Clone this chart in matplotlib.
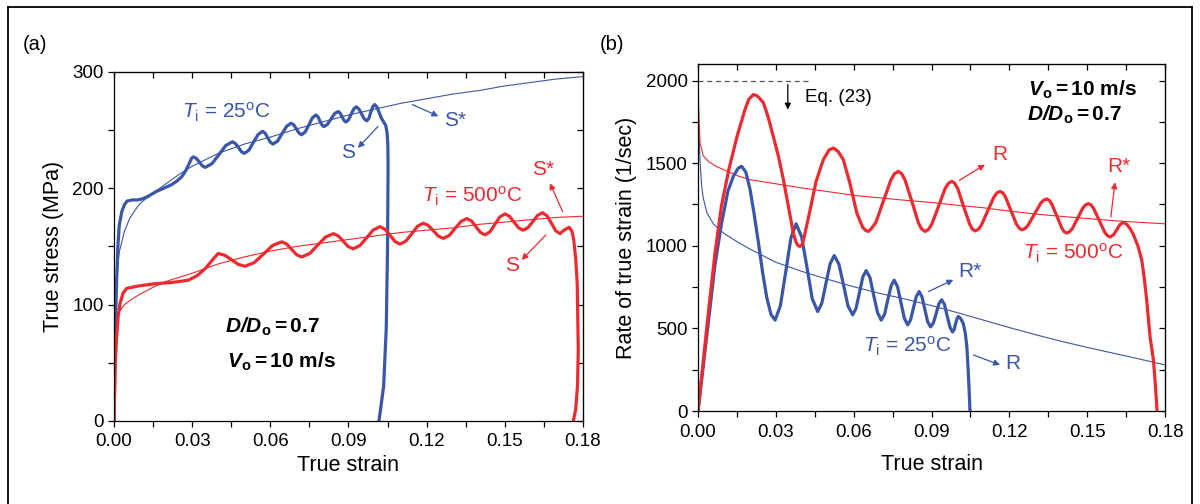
import matplotlib
matplotlib.use("Agg")
import matplotlib.pyplot as plt
from matplotlib.ticker import MultipleLocator
from matplotlib.lines import Line2D

plt.rcParams['font.family'] = ['Liberation Sans', 'DejaVu Sans']
plt.rcParams['mathtext.fontset'] = 'custom'
plt.rcParams['mathtext.rm'] = 'Liberation Sans'
plt.rcParams['mathtext.it'] = 'Liberation Sans:italic'
plt.rcParams['mathtext.bf'] = 'Liberation Sans:bold'
plt.rcParams['mathtext.bfit'] = 'Liberation Sans:italic:bold'

BLUE = '#3a56a8'
RED = '#ee2a30'

# ---------------- (a) true stress vs true strain ----------------
s25_strain = [0, 0.0005, 0.001, 0.0015, 0.002, 0.003, 0.004, 0.005, 0.007, 0.009, 0.011,
              0.013, 0.016, 0.019, 0.022, 0.024, 0.026, 0.0275, 0.029, 0.0298, 0.0305,
              0.0316, 0.0328, 0.0339, 0.035, 0.0376, 0.0403, 0.0429, 0.0455,
              0.0466, 0.0478, 0.0489, 0.050, 0.0518, 0.0535, 0.0553, 0.057,
              0.058, 0.059, 0.060, 0.061, 0.0628, 0.0645, 0.0663, 0.068,
              0.069, 0.070, 0.071, 0.072, 0.0734, 0.0748, 0.0761, 0.0775,
              0.0783, 0.079, 0.0798, 0.0805, 0.0819, 0.0833, 0.0846, 0.086,
              0.0868, 0.0875, 0.0883, 0.089, 0.090, 0.091, 0.092, 0.093,
              0.094, 0.095, 0.096, 0.097, 0.0978, 0.0985, 0.0993, 0.100,
              0.1009, 0.1018, 0.1027, 0.1035, 0.1043, 0.1048, 0.1051, 0.1052,
              0.1050, 0.1045, 0.1035, 0.1017]
s25_stress = [0, 80, 120, 150, 168, 180, 186, 189, 190, 190, 191,
              193, 197, 200, 203, 206, 210, 215, 222, 226, 227,
              225.7, 222.5, 219.3, 218, 221.2, 229, 236.8, 240,
              238.5, 235, 231.5, 230, 232.8, 239.5, 246.2, 249,
              247.4, 243.5, 239.6, 238, 240.6, 247, 253.4, 256,
              254.5, 251, 247.5, 246, 248.5, 254.5, 260.5, 263,
              261.5, 258, 254.5, 253, 254.9, 259.5, 264.1, 266,
              264.7, 261.5, 258.3, 257, 258.9, 263.5, 268.1, 270,
              268.2, 264, 259.8, 258, 260, 265, 270, 272,
              270, 265, 260, 257, 254, 248, 238, 220,
              150, 80, 30, 0]

s25_fit_strain = [0, 0.0003, 0.001, 0.002, 0.004, 0.006, 0.008, 0.01, 0.015, 0.02, 0.025, 0.03,
                  0.04, 0.05, 0.06, 0.07, 0.08, 0.09, 0.10, 0.11, 0.12, 0.13, 0.14, 0.15,
                  0.16, 0.17, 0.18]
s25_fit_stress = [0, 90, 120, 145, 163, 174, 181, 187, 196, 204, 212, 219,
                  230, 238, 244, 251, 257, 263, 268, 273, 277, 281, 284, 288,
                  291, 294, 296]

s500_strain = [0, 0.0005, 0.001, 0.0016, 0.0023, 0.0035, 0.0049, 0.0093, 0.0157, 0.022,
               0.0285, 0.032, 0.035, 0.038, 0.040,
               0.0426, 0.0452, 0.0477, 0.0503, 0.0538, 0.0574, 0.0609, 0.0644,
               0.0663, 0.0682, 0.0701, 0.072, 0.0751, 0.0781, 0.0812, 0.0842,
               0.0861, 0.088, 0.0899, 0.0918, 0.0944, 0.097, 0.0995, 0.1021,
               0.104, 0.106, 0.1079, 0.1098, 0.112, 0.1143, 0.1165, 0.1187,
               0.1206, 0.1226, 0.1245, 0.1264, 0.1287, 0.1309, 0.1332, 0.1354,
               0.1372, 0.1389, 0.1407, 0.1424, 0.1443, 0.1462, 0.1481, 0.150,
               0.1518, 0.1535, 0.1553, 0.157, 0.1589, 0.1608, 0.1626, 0.1645,
               0.1662, 0.1679, 0.1695, 0.1712, 0.1727, 0.1747, 0.1758, 0.1765,
               0.1772, 0.1778, 0.1782, 0.1779, 0.1772, 0.1763]
s500_stress = [0, 50, 72, 90, 101, 110, 114, 116, 118, 119,
               121, 125, 131, 139, 144,
               142.4, 138.5, 134.6, 133, 136.1, 143.5, 150.9, 154,
               152.1, 147.5, 142.9, 141, 143.9, 151, 158.1, 161,
               159.1, 154.5, 149.9, 148, 150.8, 157.5, 164.2, 167,
               164.8, 159.5, 154.2, 152, 154.6, 161, 167.4, 170,
               168.1, 163.5, 158.9, 157, 159.5, 165.5, 171.5, 174,
               172, 167, 162, 160, 162.6, 169, 175.4, 178,
               176, 171, 166, 164, 166.2, 171.5, 176.8, 179,
               176.4, 170, 163.6, 161, 164, 166.5, 163, 155,
               140, 118, 61, 30, 10, 0]

s500_fit_strain = [0, 0.0003, 0.001, 0.002, 0.004, 0.007, 0.01, 0.015, 0.02, 0.03, 0.04,
                   0.05, 0.06, 0.07, 0.08, 0.09, 0.10, 0.11, 0.12, 0.13, 0.14, 0.15,
                   0.16, 0.17, 0.18]
s500_fit_stress = [0, 75, 88, 94, 100, 105, 109, 115, 120, 127, 135,
                   141, 146, 150, 153, 156, 159, 162, 164, 166, 169, 171,
                   173, 175, 176]

# ---------------- (b) rate of true strain vs true strain ----------------
r25_strain = [0, 0.002, 0.004, 0.0065, 0.009, 0.0115, 0.0136, 0.0155, 0.0168,
              0.0184, 0.02, 0.0216, 0.0233, 0.0249, 0.0265, 0.0281, 0.0297,
              0.0317, 0.0338, 0.0358, 0.0378, 0.0399, 0.042, 0.044, 0.0461,
              0.0477, 0.0493, 0.0509, 0.0525, 0.0543, 0.0561, 0.0578, 0.0596,
              0.0609, 0.0622, 0.0635, 0.0648, 0.0663, 0.0677, 0.0692, 0.0706,
              0.0719, 0.0731, 0.0744, 0.0756, 0.0769, 0.0782, 0.0795, 0.0808,
              0.0819, 0.083, 0.0841, 0.0852, 0.0863, 0.0874, 0.0885, 0.0896,
              0.0907, 0.0918, 0.0928, 0.0939, 0.095, 0.096, 0.0971, 0.0981,
              0.0987, 0.0992, 0.0998, 0.1003, 0.1012, 0.1022, 0.1030, 0.1036,
              0.1041, 0.1045, 0.1048]
r25_rate = [0, 270, 540, 880, 1130, 1330, 1420, 1470, 1481,
            1446, 1345, 1194, 1016, 837, 686, 585, 550,
            635, 842, 1048, 1133, 1055, 868, 680, 602,
            652, 772, 891, 941, 888, 762, 635, 582,
            621, 716, 811, 850, 806, 700, 594, 550,
            585, 671, 757, 792, 752, 657, 561, 521,
            551, 622, 693, 723, 692, 616, 540, 509,
            533, 591, 649, 673, 644, 576, 507, 478,
            492, 525, 558, 572, 560, 530, 470, 390,
            250, 120, 0]

r25_fit_strain = [0, 0.0003, 0.0008, 0.0014, 0.002, 0.0034, 0.006, 0.01, 0.015, 0.02, 0.03,
                  0.04, 0.05, 0.06, 0.07, 0.08, 0.09, 0.10, 0.11, 0.12, 0.13, 0.14, 0.15,
                  0.16, 0.17, 0.18]
r25_fit_rate = [2000, 1700, 1500, 1360, 1290, 1200, 1130, 1075, 1025, 980, 900,
                845, 797, 752, 712, 677, 638, 595, 550, 505, 462, 422, 385,
                350, 315, 279]

r500_strain = [0, 0.002, 0.004, 0.0065, 0.009, 0.012, 0.015, 0.018, 0.0195, 0.0213, 0.0225,
               0.0236, 0.0252, 0.027, 0.029, 0.031, 0.0329, 0.0348, 0.0367, 0.0378, 0.0386,
               0.0393, 0.0402, 0.041, 0.0432, 0.0455, 0.0483, 0.0505, 0.0522, 0.054, 0.056,
               0.0585, 0.0612, 0.0635, 0.0647, 0.0656, 0.0666,
               0.0685, 0.0714, 0.0743, 0.0757, 0.0772,
               0.0785, 0.0798, 0.0824, 0.0849, 0.0862, 0.0875,
               0.0888, 0.0901, 0.0927, 0.0952, 0.0965, 0.0978,
               0.0989, 0.1001, 0.1023, 0.1046, 0.1057, 0.1068,
               0.108, 0.1092, 0.1116, 0.114, 0.1152, 0.1164,
               0.1175, 0.1185, 0.1206, 0.1227, 0.1238, 0.1248,
               0.126, 0.1272, 0.1296, 0.132, 0.1332, 0.1344,
               0.1354, 0.1363, 0.1383, 0.1402, 0.1411, 0.1421,
               0.1431, 0.1442, 0.1463, 0.1483, 0.1494, 0.1504,
               0.1515, 0.1525, 0.1546, 0.1567, 0.1578, 0.1588,
               0.1601, 0.1614, 0.1626, 0.1639, 0.1652, 0.1665, 0.1678, 0.1695,
               0.171, 0.172, 0.1729, 0.1742, 0.1755, 0.1763, 0.1769]
r500_rate = [0, 300, 600, 950, 1240, 1470, 1660, 1820, 1885, 1915, 1910,
             1895, 1865, 1780, 1662, 1540, 1400, 1240, 1077, 1020, 1000,
             996, 1010, 1060, 1218, 1390, 1521, 1580, 1592, 1570, 1521,
             1380, 1198, 1110, 1092, 1087, 1100,
             1140, 1269, 1397, 1436, 1450,
             1436, 1397, 1269, 1140, 1101, 1087,
             1099, 1131, 1239, 1346, 1378, 1390,
             1379, 1346, 1240, 1134, 1101, 1090,
             1099, 1125, 1210, 1294, 1320, 1329,
             1320, 1295, 1213, 1131, 1106, 1097,
             1104, 1124, 1190, 1256, 1276, 1283,
             1275, 1253, 1180, 1107, 1085, 1077,
             1084, 1103, 1166, 1229, 1248, 1255,
             1247, 1225, 1154, 1083, 1061, 1053,
             1066, 1097, 1128, 1141, 1130, 1105, 1067, 1000,
             915, 800, 673, 450, 309, 150, 0]

r500_fit_strain = [0, 0.0003, 0.0008, 0.002, 0.004, 0.007, 0.01, 0.015, 0.02, 0.03, 0.04,
                   0.05, 0.06, 0.07, 0.08, 0.09, 0.10, 0.11, 0.12, 0.13, 0.14, 0.15,
                   0.16, 0.17, 0.18]
r500_fit_rate = [2000, 1800, 1620, 1545, 1510, 1480, 1460, 1425, 1400, 1375, 1350,
                 1328, 1305, 1290, 1275, 1262, 1245, 1230, 1210, 1192, 1178, 1165,
                 1152, 1142, 1133]

eq23_strain = [0, 0.0432]
eq23_rate = [2000, 2000]

fig = plt.figure(figsize=(12, 5.04), dpi=100)
axa = fig.add_axes([0.095, 0.1647, 0.3908, 0.6925])
axb = fig.add_axes([0.5817, 0.1845, 0.3892, 0.6885])


def style(ax, ymax, ymaj, ymin):
    ax.set_xlim(0, 0.18)
    ax.set_ylim(0, ymax)
    ax.xaxis.set_major_locator(MultipleLocator(0.03))
    ax.xaxis.set_minor_locator(MultipleLocator(0.015))
    ax.yaxis.set_major_locator(MultipleLocator(ymaj))
    ax.yaxis.set_minor_locator(MultipleLocator(ymin))
    ax.xaxis.set_major_formatter(plt.FuncFormatter(lambda v, p: '%.2f' % v))
    ax.tick_params(which='both', direction='out', length=4, width=0.9, labelsize=13.5,
                   top=False, right=False)
    ax.tick_params(axis='x', pad=5)
    for sp in ax.spines.values():
        sp.set_linewidth(0.9)
    sec = ax.secondary_xaxis('top')
    sec.xaxis.set_major_locator(MultipleLocator(0.015))
    sec.tick_params(direction='in', length=4, width=0.9, labeltop=False)
    sec2 = ax.secondary_yaxis('right')
    sec2.yaxis.set_major_locator(MultipleLocator(ymin))
    sec2.tick_params(direction='in', length=4, width=0.9, labelright=False)


style(axa, 300, 100, 50)
style(axb, 2100, 500, 250)

thick = dict(lw=2.3, solid_joinstyle='round', solid_capstyle='round')

# panel (a)
axa.plot(s25_fit_strain, s25_fit_stress, color=BLUE, lw=0.8)
axa.plot(s500_fit_strain, s500_fit_stress, color=RED, lw=0.8)
axa.plot(s25_strain, s25_stress, color=BLUE, **thick)
axa.plot(s500_strain, s500_stress, color=RED, **thick)
axa.set_xlabel('True strain', fontsize=15.5, labelpad=3)
axa.set_ylabel('True stress (MPa)', fontsize=15.5, labelpad=6)

arrow = dict(arrowstyle='-|>', lw=0.9, mutation_scale=9, shrinkA=0, shrinkB=0)
axa.annotate('', xy=(0.0936, 234.7), xytext=(0.1013, 253.1), arrowprops=dict(arrow, color=BLUE))
axa.text(0.0898, 231, 'S', color=BLUE, fontsize=15, ha='center', va='center')
axa.annotate('', xy=(0.1245, 262), xytext=(0.1145, 272), arrowprops=dict(arrow, color=BLUE))
axa.text(0.1265, 258, 'S*', color=BLUE, fontsize=15, ha='left', va='center')
axa.annotate('', xy=(0.1673, 204.4), xytext=(0.1722, 180), arrowprops=dict(arrow, color=RED))
axa.text(0.1646, 216, 'S*', color=RED, fontsize=15, ha='center', va='center')
axa.annotate('', xy=(0.1565, 138.4), xytext=(0.1658, 160), arrowprops=dict(arrow, color=RED))
axa.text(0.1526, 134, 'S', color=RED, fontsize=15, ha='center', va='center')
axa.text(0.0261, 265, r'$T_\mathrm{i}$ = 25$^\mathrm{o}$C', color=BLUE, fontsize=15,
         ha='left', va='center')
axa.text(0.1181, 193, r'$T_\mathrm{i}$ = 500$^\mathrm{o}$C', color=RED, fontsize=15,
         ha='left', va='center')
axa.text(0.0426, 81, r'$\mathbfit{D/D}_\mathbf{o}$$\mathbf{ = 0.7}$', fontsize=15,
         ha='left', va='center')
axa.text(0.0432, 51, r'$\mathbfit{V}_\mathbf{o}$$\mathbf{ = 10\ m/s}$', fontsize=15,
         ha='left', va='center')

# panel (b)
axb.plot(eq23_strain, eq23_rate, color='#555555', lw=0.9, ls=(0, (4, 3)))
axb.plot(r25_fit_strain, r25_fit_rate, color=BLUE, lw=0.8)
axb.plot(r500_fit_strain, r500_fit_rate, color=RED, lw=0.8)
axb.plot(r25_strain, r25_rate, color=BLUE, **thick)
axb.plot(r500_strain, r500_rate, color=RED, **thick)
axb.set_xlabel('True strain', fontsize=15.5, labelpad=10)
axb.set_ylabel('Rate of true strain (1/sec)', fontsize=15.5, labelpad=6)

axb.annotate('', xy=(0.0346, 1824), xytext=(0.0346, 1976), arrowprops=dict(arrow, color='black'))
axb.text(0.0412, 1897, 'Eq. (23)', fontsize=13.5, ha='left', va='center')
axb.text(0.1272, 1945, r'$\mathbfit{V}_\mathbf{o}$$\mathbf{ = 10\ m/s}$', fontsize=15,
         ha='left', va='center')
axb.text(0.1267, 1794, r'$\mathbfit{D/D}_\mathbf{o}$$\mathbf{ = 0.7}$', fontsize=15,
         ha='left', va='center')
axb.annotate('', xy=(0.1106, 1491), xytext=(0.1007, 1396), arrowprops=dict(arrow, color=RED))
axb.text(0.1164, 1552, 'R', color=RED, fontsize=15, ha='center', va='center')
axb.annotate('', xy=(0.1607, 1384), xytext=(0.1591, 1174), arrowprops=dict(arrow, color=RED))
axb.text(0.162, 1481, 'R*', color=RED, fontsize=15, ha='center', va='center')
axb.text(0.1254, 956, r'$T_\mathrm{i}$ = 500$^\mathrm{o}$C', color=RED, fontsize=15,
         ha='left', va='center')
axb.annotate('', xy=(0.0984, 794), xytext=(0.0888, 723), arrowprops=dict(arrow, color=BLUE))
axb.text(0.1048, 844, 'R*', color=BLUE, fontsize=15, ha='center', va='center')
axb.text(0.0637, 390, r'$T_\mathrm{i}$ = 25$^\mathrm{o}$C', color=BLUE, fontsize=15,
         ha='left', va='center')
axb.annotate('', xy=(0.1164, 279), xytext=(0.1061, 339), arrowprops=dict(arrow, color=BLUE))
axb.text(0.1215, 289, 'R', color=BLUE, fontsize=15, ha='center', va='center')

fig.text(35 / 1200, 1 - 45 / 504, '(a)', fontsize=14.5, ha='center', va='center')
fig.text(612 / 1200, 1 - 45 / 504, '(b)', fontsize=14.5, ha='center', va='center')

# outer frame
x0, x1, y1 = 8 / 1200, 1192 / 1200, 1 - 7 / 504
for xs, ys in [([x0, x1], [y1, y1]), ([x0, x0], [y1, -0.01]), ([x1, x1], [y1, -0.01])]:
    fig.add_artist(Line2D(xs, ys, color='black', lw=1.3, transform=fig.transFigure))

fig.savefig('out.png', dpi=100)
